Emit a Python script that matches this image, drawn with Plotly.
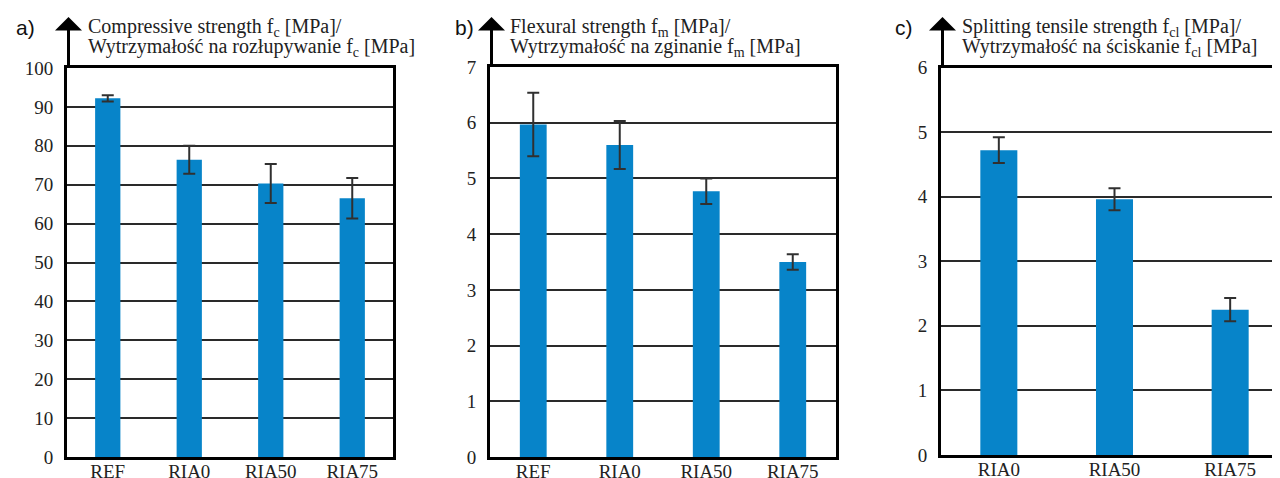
import plotly.graph_objects as go

# ---- data ----
cats_a = ["REF", "RIA0", "RIA50", "RIA75"]
fc = [92.2, 76.4, 70.3, 66.5]
fc_err = [0.8, 3.6, 5.0, 5.2]

cats_b = ["REF", "RIA0", "RIA50", "RIA75"]
fm = [5.97, 5.60, 4.77, 3.50]
fm_err = [0.57, 0.43, 0.23, 0.14]

cats_c = ["RIA0", "RIA50", "RIA75"]
fcl = [4.72, 3.96, 2.25]
fcl_err = [0.20, 0.17, 0.18]

yticks_a = list(range(0, 101, 10))
yticks_b = list(range(0, 8))
yticks_c = list(range(0, 7))

panel_labels = ["a)", "b)", "c)"]
title1 = ["Compressive strength f<sub>c</sub> [MPa]/",
          "Flexural strength f<sub>m</sub> [MPa]/",
          "Splitting tensile strength f<sub>cl</sub> [MPa]/"]
title2 = ["Wytrzymałość na rozłupywanie f<sub>c</sub> [MPa]",
          "Wytrzymałość na zginanie f<sub>m</sub> [MPa]",
          "Wytrzymałość na ściskanie f<sub>cl</sub> [MPa]"]

# ---- layout geometry (screen pixels; page body adds an 8px offset) ----
W, H = 1280, 478
OFF = 8
BAR = "#0784c9"
ERR = "#303030"
GRID = "#2a2a2a"
SERIF = "Liberation Serif"
SANS = "Liberation Sans"

panels = [
    dict(cats=cats_a, vals=fc, err=fc_err, ticks=yticks_a, left=67, right=393, top=68, bottom=457,
         width=0.31, xr=[-0.5, 3.5], label_x=14, text_x=86),
    dict(cats=cats_b, vals=fm, err=fm_err, ticks=yticks_b, left=490, right=836, top=67, bottom=457,
         width=0.31, xr=[-0.5, 3.5], label_x=453, text_x=508),
    dict(cats=cats_c, vals=fcl, err=fcl_err, ticks=yticks_c, left=941, right=1288, top=67.5, bottom=455,
         width=0.32, xr=[-0.5, 2.5], label_x=893, text_x=960),
]


def px(x):
    return (x - OFF) / W


def py(y):
    return 1 - (y - OFF) / H


fig = go.Figure()
annotations = []
for i, p in enumerate(panels):
    n = "" if i == 0 else str(i + 1)
    fig.add_trace(go.Bar(
        x=p["cats"], y=p["vals"], width=p["width"],
        marker=dict(color=BAR, line=dict(width=0)),
        error_y=dict(type="data", array=p["err"], visible=True, color=ERR, thickness=2, width=6),
        xaxis="x" + n, yaxis="y" + n, showlegend=False,
    ))
    xdom = [px(p["left"]), min(px(p["right"]), 1.0)]
    ydom = [py(p["bottom"]), py(p["top"])]
    fig.update_layout(**{
        "xaxis" + n: dict(domain=xdom, anchor="y" + n, range=p["xr"], showgrid=False, automargin=False,
                          showline=True, linecolor="black", linewidth=2.5, mirror=True,
                          ticks="", ticklabelstandoff=-5,
                          tickfont=dict(family=SERIF, size=19, color="#222"), fixedrange=True),
        "yaxis" + n: dict(domain=ydom, anchor="x" + n, range=[p["ticks"][0], p["ticks"][-1]],
                          tickvals=p["ticks"], showgrid=True, gridcolor=GRID, gridwidth=1.6,
                          showline=True, linecolor="black", linewidth=3, mirror=True, automargin=False,
                          ticks="outside", ticklen=7, tickcolor="rgba(0,0,0,0)",
                          zeroline=False,
                          tickfont=dict(family=SERIF, size=19, color="#222"), fixedrange=True),
    })
    # vertical axis arrow
    tip = 17
    annotations.append(dict(
        xref="paper", yref="paper", x=px(p["left"] + 1.5), y=py(tip), text="",
        showarrow=True, ax=0, ay=p["top"] - tip, axref="pixel", ayref="pixel",
        arrowhead=1, arrowsize=1.5, arrowwidth=3, arrowcolor="black", standoff=0,
    ))
    annotations.append(dict(
        xref="paper", yref="paper", x=px(p["label_x"]), y=py(27), text=panel_labels[i],
        showarrow=False, xanchor="left", yanchor="middle",
        font=dict(family=SANS, size=21, color="#111"),
    ))
    annotations.append(dict(
        xref="paper", yref="paper", x=px(p["text_x"]), y=py(27), text=title1[i],
        showarrow=False, xanchor="left", yanchor="middle",
        font=dict(family=SERIF, size=20, color="#222"),
    ))
    annotations.append(dict(
        xref="paper", yref="paper", x=px(p["text_x"]), y=py(47), text=title2[i],
        showarrow=False, xanchor="left", yanchor="middle",
        font=dict(family=SERIF, size=20, color="#222"),
    ))

fig.update_layout(
    width=W, height=H, margin=dict(l=0, r=0, t=0, b=0, autoexpand=False),
    paper_bgcolor="white", plot_bgcolor="white",
    annotations=annotations, bargap=0.3,
)

fig.write_html("out.html")
